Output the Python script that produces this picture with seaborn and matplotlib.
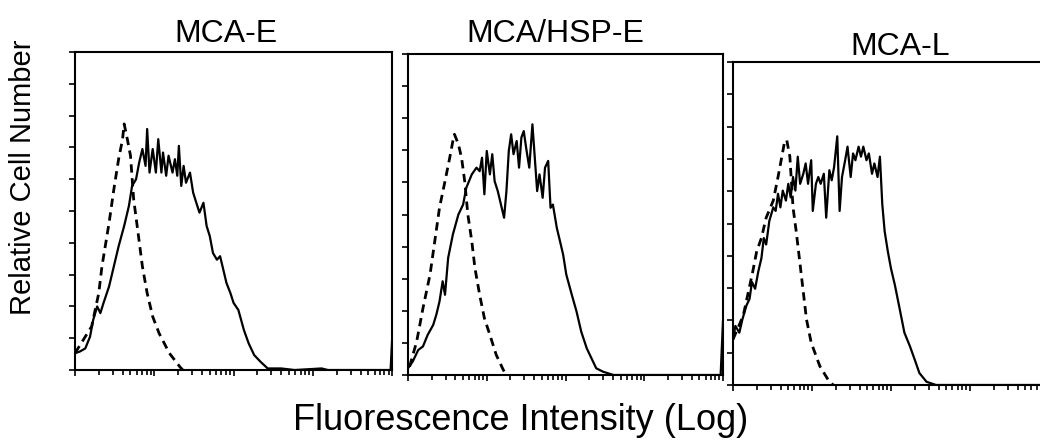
import matplotlib
matplotlib.use("Agg")
import matplotlib.pyplot as plt
import matplotlib.ticker as mticker
import numpy as np
import pandas as pd
import seaborn as sns

# panel titles
panels = ["MCA-E", "MCA/HSP-E", "MCA-L"]

# x values are log10 fluorescence (0..4 decades), y values are relative cell number (0..100)
mca_e_ctrl_x = [0.00, 0.21, 0.30, 0.34, 0.43, 0.49, 0.55, 0.60, 0.62, 0.66, 0.70, 0.74,
                0.79, 0.85, 0.91, 0.98, 1.06, 1.19, 1.32, 1.36]
mca_e_ctrl_y = [5.3, 13.7, 24.2, 32.6, 46.3, 56.8, 66.3, 72.6, 77.4, 72.6, 67.4, 53.7,
                44.2, 32.6, 24.2, 16.8, 11.6, 5.3, 1.1, 0.0]
mca_e_x = [0.00, 0.06, 0.13, 0.19, 0.23, 0.28, 0.32, 0.36, 0.43, 0.49, 0.55, 0.62, 0.68,
           0.72, 0.77, 0.81, 0.85, 0.89, 0.91, 0.94, 0.98, 1.02, 1.05, 1.09, 1.11, 1.15,
           1.18, 1.23, 1.26, 1.29, 1.31, 1.34, 1.37, 1.40, 1.45, 1.49, 1.53, 1.57, 1.62,
           1.66, 1.70, 1.74, 1.79, 1.83, 1.87, 1.91, 1.96, 2.00, 2.06, 2.13, 2.19, 2.26,
           2.34, 2.43, 2.60, 2.77, 3.11, 3.19, 3.98, 4.00]
mca_e_y = [5.3, 5.8, 6.8, 10.5, 15.8, 20.0, 17.9, 21.1, 26.3, 32.6, 38.9, 45.3, 51.6,
           57.9, 60.0, 65.3, 69.5, 64.2, 75.8, 62.1, 69.5, 62.1, 72.6, 62.1, 68.4, 61.1,
           67.4, 62.1, 66.3, 61.1, 70.5, 57.9, 64.2, 58.9, 62.1, 55.8, 52.6, 49.5, 52.6,
           45.3, 42.1, 36.8, 34.7, 35.8, 31.6, 27.4, 24.2, 21.1, 18.9, 12.6, 8.4, 4.7,
           2.6, 0.5, 0.5, 0.0, 0.5, 0.0, 0.0, 10.0]

hsp_ctrl_x = [0.02, 0.11, 0.19, 0.28, 0.34, 0.40, 0.47, 0.53, 0.57, 0.59, 0.64, 0.68,
              0.72, 0.76, 0.81, 0.85, 0.91, 0.97, 1.04, 1.12, 1.21, 1.25]
hsp_ctrl_y = [2.6, 10.4, 20.8, 31.3, 41.7, 52.1, 60.4, 67.7, 72.9, 75.0, 71.9, 67.7,
              60.4, 50.0, 41.7, 33.3, 25.0, 17.7, 12.5, 6.3, 1.6, 0.0]
hsp_x = [0.00, 0.06, 0.13, 0.19, 0.25, 0.32, 0.36, 0.40, 0.44, 0.47, 0.51, 0.57, 0.64,
         0.70, 0.74, 0.81, 0.87, 0.91, 0.94, 0.97, 1.00, 1.04, 1.07, 1.10, 1.14, 1.19,
         1.22, 1.25, 1.28, 1.31, 1.34, 1.38, 1.41, 1.44, 1.47, 1.50, 1.54, 1.58, 1.61,
         1.64, 1.67, 1.71, 1.74, 1.78, 1.81, 1.84, 1.89, 1.93, 1.97, 2.01, 2.08, 2.14,
         2.20, 2.27, 2.33, 2.39, 2.48, 2.61, 2.86, 3.97, 4.00]
hsp_y = [2.1, 4.2, 7.8, 8.9, 12.5, 15.6, 18.8, 22.9, 29.2, 25.0, 36.5, 43.8, 50.0,
         53.1, 58.3, 62.5, 64.6, 63.5, 67.7, 56.3, 69.8, 62.5, 68.8, 60.4, 57.3, 52.1,
         49.0, 57.3, 69.8, 75.0, 68.8, 72.9, 64.6, 74.0, 76.0, 70.8, 64.6, 78.1, 67.7,
         57.3, 62.5, 55.2, 64.6, 66.7, 52.1, 53.1, 45.8, 41.7, 37.5, 31.3, 25.0, 19.8,
         13.5, 8.3, 5.2, 2.1, 1.0, 0.0, 0.0, 0.0, 17.0]

mca_l_ctrl_x = [0.00, 0.13, 0.25, 0.30, 0.36, 0.42, 0.51, 0.57, 0.61, 0.65, 0.68, 0.72,
                0.76, 0.80, 0.84, 0.89, 0.93, 0.99, 1.10, 1.22, 1.27]
mca_l_ctrl_y = [14.1, 21.5, 35.1, 41.4, 45.5, 51.8, 57.1, 64.4, 69.6, 74.9, 75.9, 70.7,
                55.0, 47.6, 39.3, 28.8, 20.4, 13.1, 5.8, 1.0, 0.0]
mca_l_x = [0.00, 0.03, 0.08, 0.12, 0.17, 0.21, 0.24, 0.28, 0.32, 0.36, 0.39, 0.42, 0.46,
           0.51, 0.54, 0.57, 0.60, 0.63, 0.67, 0.70, 0.73, 0.76, 0.79, 0.82, 0.85, 0.89,
           0.92, 0.95, 0.99, 1.01, 1.05, 1.08, 1.11, 1.15, 1.18, 1.22, 1.25, 1.28, 1.32,
           1.35, 1.38, 1.42, 1.45, 1.49, 1.52, 1.55, 1.59, 1.62, 1.65, 1.69, 1.72, 1.76,
           1.79, 1.83, 1.86, 1.89, 1.92, 1.96, 2.00, 2.05, 2.11, 2.17, 2.24, 2.30, 2.36,
           2.45, 2.57, 2.83, 3.92]
mca_l_y = [14.1, 18.3, 16.2, 20.4, 24.6, 26.7, 31.9, 29.8, 35.1, 39.3, 45.5, 43.5, 50.8,
           55.0, 53.9, 59.2, 55.0, 60.2, 57.1, 62.3, 58.1, 64.4, 60.2, 70.7, 62.3, 65.4,
           68.6, 62.3, 69.6, 53.9, 62.3, 64.4, 62.3, 65.4, 51.8, 66.5, 63.4, 67.5, 77.0,
           53.9, 64.4, 69.6, 73.8, 64.4, 71.7, 69.6, 73.8, 70.7, 73.8, 69.6, 71.7, 65.4,
           68.6, 64.4, 70.7, 56.0, 47.6, 41.4, 36.1, 30.9, 23.6, 16.2, 12.0, 7.9, 3.7,
           1.0, 0.0, 0.0, 0.0]

series = [
    (mca_e_ctrl_x, mca_e_ctrl_y, mca_e_x, mca_e_y),
    (hsp_ctrl_x, hsp_ctrl_y, hsp_x, hsp_y),
    (mca_l_ctrl_x, mca_l_ctrl_y, mca_l_x, mca_l_y),
]

sns.set_style("ticks")
plt.rcParams["font.family"] = ["Liberation Sans", "DejaVu Sans"]
plt.rcParams["text.color"] = "black"

fig = plt.figure(figsize=(10.4, 4.4), dpi=100)
# panel boxes in figure fractions (left, bottom, width, height)
boxes = [
    [0.0721, 0.159, 0.305, 0.7227],
    [0.3923, 0.1477, 0.3029, 0.7295],
    [0.7048, 0.125, 0.3038, 0.734],
]
title_pos = [(0.2173, 0.9045), (0.5337, 0.9045), (0.8654, 0.875)]

for name, box, (cx, cy, sx, sy), (tx, ty) in zip(panels, boxes, series, title_pos):
    ax = fig.add_axes(box)
    df = pd.concat([
        pd.DataFrame({"x": np.power(10.0, cx), "y": cy, "kind": "control"}),
        pd.DataFrame({"x": np.power(10.0, sx), "y": sy, "kind": "stained"}),
    ])
    sns.lineplot(data=df, x="x", y="y", style="kind", estimator=None, sort=False,
                 color="black", dashes={"control": (3, 2), "stained": ""},
                 ax=ax, legend=False)
    for line in ax.get_lines():
        line.set_linewidth(1.6 if line.get_linestyle() == "-" else 2.0)
    ax.set_xscale("log")
    ax.set_xlim(1, 1e4)
    ax.set_ylim(0, 100)
    ax.xaxis.set_major_locator(mticker.LogLocator(base=10, numticks=10))
    ax.xaxis.set_minor_locator(mticker.LogLocator(base=10, subs=np.arange(2, 10), numticks=20))
    ax.yaxis.set_major_locator(mticker.MultipleLocator(10))
    ax.xaxis.set_minor_formatter(mticker.NullFormatter())
    ax.set_xticklabels([])
    ax.set_yticklabels([])
    ax.tick_params(axis="both", which="major", direction="out", length=4, width=1.2, color="black")
    ax.tick_params(axis="x", which="minor", direction="out", length=3.5, width=1.2, color="black")
    ax.set_xlabel("")
    ax.set_ylabel("")
    for sp in ax.spines.values():
        sp.set_linewidth(1.5)
        sp.set_color("black")
    fig.text(tx, ty, name, ha="center", va="baseline", fontsize=23, color="black")

fig.text(0.022, 0.598, "Relative Cell Number", rotation=90, ha="center", va="center",
         fontsize=21, color="black")
fig.text(0.501, 0.0227, "Fluorescence Intensity (Log)", ha="center", va="baseline",
         fontsize=26, color="black")

fig.savefig("out.png", dpi=100)
